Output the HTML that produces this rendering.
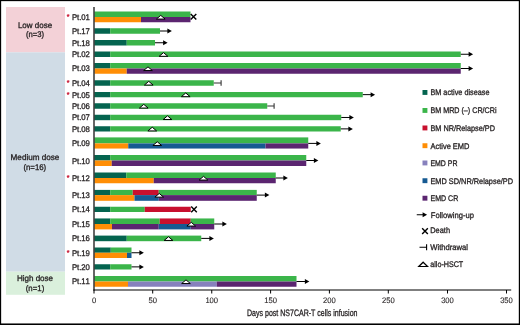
<!DOCTYPE html>
<html><head><meta charset="utf-8"><title>Swimmer plot</title>
<style>
html,body{margin:0;padding:0;background:#fff;}
body{width:520px;height:325px;overflow:hidden;position:relative;}
svg{position:absolute;left:0;top:0;display:block;}
svg text{font-family:"Liberation Sans",sans-serif;fill:#231f20;stroke:#231f20;stroke-width:0.3px;text-rendering:geometricPrecision;}
</style></head><body>
<svg width="520" height="325" viewBox="0 0 520 325" shape-rendering="auto">
<rect x="0" y="0" width="520" height="325" fill="#000"/><rect x="1.15" y="1.15" width="517.65" height="322.3" fill="#fff"/>
<rect x="6.00" y="7.00" width="59.00" height="45.30" fill="#f3d1d7"/>
<rect x="6.00" y="52.30" width="59.00" height="219.40" fill="#d0dce6"/>
<rect x="6.00" y="271.70" width="59.00" height="23.10" fill="#daf0dc"/>
<text x="35.0" y="27.7" font-size="8.2" text-anchor="middle" textLength="34.2" lengthAdjust="spacingAndGlyphs">Low dose</text>
<text x="35" y="37.1" font-size="8.2" text-anchor="middle" textLength="18.1" lengthAdjust="spacingAndGlyphs">(n=3)</text>
<text x="35" y="160.3" font-size="8.2" text-anchor="middle" textLength="48.8" lengthAdjust="spacingAndGlyphs">Medium dose</text>
<text x="34.8" y="169.5" font-size="8.2" text-anchor="middle" textLength="22.8" lengthAdjust="spacingAndGlyphs">(n=16)</text>
<text x="35" y="281.4" font-size="8.2" text-anchor="middle" textLength="36.2" lengthAdjust="spacingAndGlyphs">High dose</text>
<text x="35" y="291.0" font-size="8.2" text-anchor="middle" textLength="18.5" lengthAdjust="spacingAndGlyphs">(n=1)</text>
<text transform="translate(71.9,19.88) scale(0.95,1)" x="0.00 5.26 7.68 9.79 14.37" y="0" font-size="8.2">Pt.01</text>
<text x="68.2" y="19.27" font-size="7" text-anchor="middle" style="fill:#c8102e;stroke:#c8102e">*</text>
<rect x="94.50" y="11.50" width="96.00" height="5.50" fill="#3bb54a"/>
<rect x="94.50" y="17.00" width="46.50" height="5.25" fill="#ff8e05"/>
<rect x="141.00" y="17.00" width="49.50" height="5.25" fill="#5b2570"/>
<path d="M190.7 13.95L196.3 19.55M190.7 19.55L196.3 13.95" stroke="#000" stroke-width="1.4" fill="none"/>
<path d="M160.75 15.35L165.1 19.05H156.4Z" fill="#fff" stroke="#000" stroke-width="1.0" stroke-linejoin="miter"/>
<text transform="translate(71.9,34.00) scale(0.95,1)" x="0.00 5.26 7.68 9.79 14.37" y="0" font-size="8.2">Pt.17</text>
<rect x="94.50" y="28.25" width="15.70" height="5.50" fill="#04644f"/>
<rect x="110.20" y="28.25" width="49.80" height="5.50" fill="#3bb54a"/>
<path d="M160 31.0H168.85" stroke="#000" stroke-width="1.0" fill="none"/>
<path d="M171.85 31.0L167.35 28.5V33.5Z" fill="#000"/>
<text transform="translate(71.9,45.75) scale(0.95,1)" x="0.00 5.26 7.68 9.79 14.37" y="0" font-size="8.2">Pt.18</text>
<rect x="94.50" y="40.00" width="32.25" height="5.50" fill="#04644f"/>
<rect x="126.75" y="40.00" width="28.25" height="5.50" fill="#3bb54a"/>
<path d="M155 42.75H164.6" stroke="#000" stroke-width="1.0" fill="none"/>
<path d="M167.6 42.75L163.1 40.25V45.25Z" fill="#000"/>
<text transform="translate(71.9,57.25) scale(0.95,1)" x="0.00 5.26 7.68 9.79 14.37" y="0" font-size="8.2">Pt.02</text>
<rect x="94.50" y="51.50" width="15.70" height="5.50" fill="#04644f"/>
<rect x="110.20" y="51.50" width="350.55" height="5.50" fill="#3bb54a"/>
<path d="M460.75 54.25H470.1" stroke="#000" stroke-width="1.0" fill="none"/>
<path d="M473.1 54.25L468.6 51.75V56.75Z" fill="#000"/>
<path d="M163.5 52.6L167.85 56.300000000000004H159.15Z" fill="#fff" stroke="#000" stroke-width="1.0" stroke-linejoin="miter"/>
<text transform="translate(71.9,71.38) scale(0.95,1)" x="0.00 5.26 7.68 9.79 14.37" y="0" font-size="8.2">Pt.03</text>
<rect x="94.50" y="63.00" width="15.70" height="5.50" fill="#04644f"/>
<rect x="110.20" y="63.00" width="350.55" height="5.50" fill="#3bb54a"/>
<rect x="94.50" y="68.50" width="32.25" height="5.25" fill="#ff8e05"/>
<rect x="126.75" y="68.50" width="334.00" height="5.25" fill="#5b2570"/>
<path d="M460.75 68.5H470.1" stroke="#000" stroke-width="1.0" fill="none"/>
<path d="M473.1 68.5L468.6 66.0V71.0Z" fill="#000"/>
<path d="M148 66.85000000000001L152.35 70.55H143.65Z" fill="#fff" stroke="#000" stroke-width="1.0" stroke-linejoin="miter"/>
<text transform="translate(71.9,86.00) scale(0.95,1)" x="0.00 5.26 7.68 9.79 14.37" y="0" font-size="8.2">Pt.04</text>
<text x="68.2" y="85.40" font-size="7" text-anchor="middle" style="fill:#c8102e;stroke:#c8102e">*</text>
<rect x="94.50" y="80.25" width="15.70" height="5.50" fill="#04644f"/>
<rect x="110.20" y="80.25" width="103.55" height="5.50" fill="#3bb54a"/>
<path d="M213.75 83.0H221.5M221.1 80.2V85.8" stroke="#333" stroke-width="1.1" fill="none"/>
<path d="M148.75 81.35000000000001L153.1 85.05H144.4Z" fill="#fff" stroke="#000" stroke-width="1.0" stroke-linejoin="miter"/>
<text transform="translate(71.9,97.62) scale(0.95,1)" x="0.00 5.26 7.68 9.79 14.37" y="0" font-size="8.2">Pt.05</text>
<text x="68.2" y="97.03" font-size="7" text-anchor="middle" style="fill:#c8102e;stroke:#c8102e">*</text>
<rect x="94.50" y="92.00" width="15.70" height="5.25" fill="#04644f"/>
<rect x="110.20" y="92.00" width="252.55" height="5.25" fill="#3bb54a"/>
<path d="M362.75 94.625H372.1" stroke="#000" stroke-width="1.0" fill="none"/>
<path d="M375.1 94.625L370.6 92.125V97.125Z" fill="#000"/>
<path d="M185.75 92.97500000000001L190.1 96.675H181.4Z" fill="#fff" stroke="#000" stroke-width="1.0" stroke-linejoin="miter"/>
<text transform="translate(71.9,109.00) scale(0.95,1)" x="0.00 5.26 7.68 9.79 14.37" y="0" font-size="8.2">Pt.06</text>
<rect x="94.50" y="103.25" width="15.70" height="5.50" fill="#04644f"/>
<rect x="110.20" y="103.25" width="157.05" height="5.50" fill="#3bb54a"/>
<path d="M267.25 106.0H274.5M274.1 103.2V108.8" stroke="#333" stroke-width="1.1" fill="none"/>
<path d="M143.75 104.35000000000001L148.1 108.05H139.4Z" fill="#fff" stroke="#000" stroke-width="1.0" stroke-linejoin="miter"/>
<text transform="translate(71.9,120.47) scale(0.95,1)" x="0.00 5.26 7.68 9.79 14.37" y="0" font-size="8.2">Pt.07</text>
<rect x="94.50" y="114.75" width="15.70" height="5.45" fill="#04644f"/>
<rect x="110.20" y="114.75" width="231.05" height="5.45" fill="#3bb54a"/>
<path d="M341.25 117.475H350.85" stroke="#000" stroke-width="1.0" fill="none"/>
<path d="M353.85 117.475L349.35 114.975V119.975Z" fill="#000"/>
<path d="M167.5 115.825L171.85 119.52499999999999H163.15Z" fill="#fff" stroke="#000" stroke-width="1.0" stroke-linejoin="miter"/>
<text transform="translate(71.9,131.88) scale(0.95,1)" x="0.00 5.26 7.68 9.79 14.37" y="0" font-size="8.2">Pt.08</text>
<rect x="94.50" y="126.25" width="15.70" height="5.25" fill="#04644f"/>
<rect x="110.20" y="126.25" width="230.55" height="5.25" fill="#3bb54a"/>
<path d="M340.75 128.875H349.85" stroke="#000" stroke-width="1.0" fill="none"/>
<path d="M352.85 128.875L348.35 126.375V131.375Z" fill="#000"/>
<path d="M152.25 127.225L156.6 130.92499999999998H147.9Z" fill="#fff" stroke="#000" stroke-width="1.0" stroke-linejoin="miter"/>
<text transform="translate(71.9,145.98) scale(0.95,1)" x="0.00 5.26 7.68 9.79 14.37" y="0" font-size="8.2">Pt.09</text>
<rect x="94.50" y="137.40" width="213.75" height="6.00" fill="#3bb54a"/>
<rect x="94.50" y="143.40" width="33.75" height="5.15" fill="#ff8e05"/>
<rect x="128.25" y="143.40" width="137.25" height="5.15" fill="#165a92"/>
<rect x="265.50" y="143.40" width="42.75" height="5.15" fill="#5b2570"/>
<path d="M308.25 143.4H317.85" stroke="#000" stroke-width="1.0" fill="none"/>
<path d="M320.85 143.4L316.35 140.9V145.9Z" fill="#000"/>
<path d="M157.25 141.75L161.6 145.45H152.9Z" fill="#fff" stroke="#000" stroke-width="1.0" stroke-linejoin="miter"/>
<text transform="translate(71.9,163.50) scale(0.95,1)" x="0.00 5.26 7.68 9.79 14.37" y="0" font-size="8.2">Pt.10</text>
<rect x="94.50" y="155.00" width="15.70" height="5.50" fill="#04644f"/>
<rect x="110.20" y="155.00" width="196.05" height="5.50" fill="#3bb54a"/>
<rect x="94.50" y="160.50" width="17.25" height="5.50" fill="#ff8e05"/>
<rect x="111.75" y="160.50" width="194.50" height="5.50" fill="#5b2570"/>
<path d="M306.25 160.5H315.35" stroke="#000" stroke-width="1.0" fill="none"/>
<path d="M318.35 160.5L313.85 158.0V163.0Z" fill="#000"/>
<text transform="translate(71.9,180.88) scale(0.95,1)" x="0.00 5.26 7.68 9.79 14.37" y="0" font-size="8.2">Pt.12</text>
<text x="68.2" y="180.28" font-size="7" text-anchor="middle" style="fill:#c8102e;stroke:#c8102e">*</text>
<rect x="94.50" y="172.50" width="31.75" height="5.50" fill="#04644f"/>
<rect x="126.25" y="172.50" width="149.50" height="5.50" fill="#3bb54a"/>
<rect x="94.50" y="178.00" width="59.25" height="5.25" fill="#ff8e05"/>
<rect x="153.75" y="178.00" width="122.00" height="5.25" fill="#5b2570"/>
<path d="M275.75 178H284.85" stroke="#000" stroke-width="1.0" fill="none"/>
<path d="M287.85 178L283.35 175.5V180.5Z" fill="#000"/>
<path d="M203.5 176.35L207.85 180.04999999999998H199.15Z" fill="#fff" stroke="#000" stroke-width="1.0" stroke-linejoin="miter"/>
<text transform="translate(71.9,198.35) scale(0.95,1)" x="0.00 5.26 7.68 9.79 14.37" y="0" font-size="8.2">Pt.13</text>
<rect x="94.50" y="189.90" width="15.70" height="5.20" fill="#04644f"/>
<rect x="110.20" y="189.90" width="22.55" height="5.20" fill="#3bb54a"/>
<rect x="132.75" y="189.90" width="26.00" height="5.20" fill="#c8102e"/>
<rect x="158.75" y="189.90" width="98.00" height="5.20" fill="#3bb54a"/>
<rect x="94.50" y="195.10" width="40.00" height="5.70" fill="#ff8e05"/>
<rect x="134.50" y="195.10" width="24.25" height="5.70" fill="#165a92"/>
<rect x="158.75" y="195.10" width="98.00" height="5.70" fill="#5b2570"/>
<path d="M256.75 195.1H266.35" stroke="#000" stroke-width="1.0" fill="none"/>
<path d="M269.35 195.1L264.85 192.6V197.6Z" fill="#000"/>
<path d="M159.25 193.45L163.6 197.14999999999998H154.9Z" fill="#fff" stroke="#000" stroke-width="1.0" stroke-linejoin="miter"/>
<text transform="translate(71.9,212.38) scale(0.95,1)" x="0.00 5.26 7.68 9.79 14.37" y="0" font-size="8.2">Pt.14</text>
<rect x="94.50" y="206.75" width="15.70" height="5.25" fill="#04644f"/>
<rect x="110.20" y="206.75" width="34.55" height="5.25" fill="#3bb54a"/>
<rect x="144.75" y="206.75" width="46.00" height="5.25" fill="#c8102e"/>
<path d="M191.2 206.575L196.8 212.175M191.2 212.175L196.8 206.575" stroke="#000" stroke-width="1.4" fill="none"/>
<text transform="translate(71.9,226.93) scale(0.95,1)" x="0.00 5.26 7.68 9.79 14.37" y="0" font-size="8.2">Pt.15</text>
<rect x="94.50" y="218.45" width="15.70" height="5.55" fill="#04644f"/>
<rect x="110.20" y="218.45" width="49.55" height="5.55" fill="#3bb54a"/>
<rect x="159.75" y="218.45" width="31.00" height="5.55" fill="#c8102e"/>
<rect x="190.75" y="218.45" width="23.50" height="5.55" fill="#3bb54a"/>
<rect x="94.50" y="224.00" width="17.50" height="5.40" fill="#ff8e05"/>
<rect x="112.00" y="224.00" width="46.75" height="5.40" fill="#5b2570"/>
<rect x="158.75" y="224.00" width="32.00" height="5.40" fill="#165a92"/>
<rect x="190.75" y="224.00" width="23.50" height="5.40" fill="#5b2570"/>
<path d="M214.25 224H223.85" stroke="#000" stroke-width="1.0" fill="none"/>
<path d="M226.85 224L222.35 221.5V226.5Z" fill="#000"/>
<path d="M191.25 222.35L195.6 226.04999999999998H186.9Z" fill="#fff" stroke="#000" stroke-width="1.0" stroke-linejoin="miter"/>
<text transform="translate(71.9,241.40) scale(0.95,1)" x="0.00 5.26 7.68 9.79 14.37" y="0" font-size="8.2">Pt.16</text>
<rect x="94.50" y="235.60" width="32.25" height="5.60" fill="#04644f"/>
<rect x="126.75" y="235.60" width="74.50" height="5.60" fill="#3bb54a"/>
<path d="M201.25 238.39999999999998H210.85" stroke="#000" stroke-width="1.0" fill="none"/>
<path d="M213.85 238.39999999999998L209.35 235.89999999999998V240.89999999999998Z" fill="#000"/>
<path d="M168.5 236.74999999999997L172.85 240.44999999999996H164.15Z" fill="#fff" stroke="#000" stroke-width="1.0" stroke-linejoin="miter"/>
<text transform="translate(71.9,255.75) scale(0.95,1)" x="0.00 5.26 7.68 9.79 14.37" y="0" font-size="8.2">Pt.19</text>
<text x="68.2" y="255.15" font-size="7" text-anchor="middle" style="fill:#c8102e;stroke:#c8102e">*</text>
<rect x="94.50" y="247.50" width="16.25" height="5.25" fill="#04644f"/>
<rect x="110.75" y="247.50" width="20.75" height="5.25" fill="#3bb54a"/>
<rect x="94.50" y="252.75" width="32.50" height="5.25" fill="#ff8e05"/>
<rect x="127.00" y="252.75" width="4.50" height="5.25" fill="#165a92"/>
<path d="M131.5 252.75H140.85" stroke="#000" stroke-width="1.0" fill="none"/>
<path d="M143.85 252.75L139.35 250.25V255.25Z" fill="#000"/>
<text transform="translate(71.9,269.88) scale(0.95,1)" x="0.00 5.26 7.68 9.79 14.37" y="0" font-size="8.2">Pt.20</text>
<rect x="94.50" y="264.25" width="15.70" height="5.25" fill="#04644f"/>
<rect x="110.20" y="264.25" width="21.30" height="5.25" fill="#3bb54a"/>
<path d="M131.5 266.875H140.85" stroke="#000" stroke-width="1.0" fill="none"/>
<path d="M143.85 266.875L139.35 264.375V269.375Z" fill="#000"/>
<text transform="translate(71.9,284.38) scale(0.95,1)" x="0.00 5.26 7.68 9.79 14.37" y="0" font-size="8.2">Pt.11</text>
<rect x="94.50" y="276.00" width="202.00" height="5.50" fill="#3bb54a"/>
<rect x="94.50" y="281.50" width="33.50" height="5.25" fill="#ff8e05"/>
<rect x="128.00" y="281.50" width="88.75" height="5.25" fill="#8781bd"/>
<rect x="216.75" y="281.50" width="79.75" height="5.25" fill="#5b2570"/>
<path d="M296.5 281.5H306.35" stroke="#000" stroke-width="1.0" fill="none"/>
<path d="M309.35 281.5L304.85 279.0V284.0Z" fill="#000"/>
<path d="M186 279.84999999999997L190.35 283.55H181.65Z" fill="#fff" stroke="#000" stroke-width="1.0" stroke-linejoin="miter"/>
<path d="M94 7V290.6" stroke="#000" stroke-width="1.2" fill="none"/>
<path d="M93.4 290H511.2" stroke="#000" stroke-width="1.2" fill="none"/>
<path d="M94 290V293.5" stroke="#000" stroke-width="1" fill="none"/>
<text x="94" y="303.1" font-size="7.9" text-anchor="middle" textLength="4.25" lengthAdjust="spacingAndGlyphs" style="stroke-width:0.1px">0</text>
<path d="M152.7 290V293.5" stroke="#000" stroke-width="1" fill="none"/>
<text x="152.7" y="303.1" font-size="7.9" text-anchor="middle" textLength="8.5" lengthAdjust="spacingAndGlyphs" style="stroke-width:0.1px">50</text>
<path d="M211.75 290V293.5" stroke="#000" stroke-width="1" fill="none"/>
<text x="211.75" y="303.1" font-size="7.9" text-anchor="middle" textLength="12.75" lengthAdjust="spacingAndGlyphs" style="stroke-width:0.1px">100</text>
<path d="M270.6 290V293.5" stroke="#000" stroke-width="1" fill="none"/>
<text x="270.6" y="303.1" font-size="7.9" text-anchor="middle" textLength="12.75" lengthAdjust="spacingAndGlyphs" style="stroke-width:0.1px">150</text>
<path d="M329.4 290V293.5" stroke="#000" stroke-width="1" fill="none"/>
<text x="329.4" y="303.1" font-size="7.9" text-anchor="middle" textLength="12.75" lengthAdjust="spacingAndGlyphs" style="stroke-width:0.1px">200</text>
<path d="M388.3 290V293.5" stroke="#000" stroke-width="1" fill="none"/>
<text x="388.3" y="303.1" font-size="7.9" text-anchor="middle" textLength="12.75" lengthAdjust="spacingAndGlyphs" style="stroke-width:0.1px">250</text>
<path d="M447.5 290V293.5" stroke="#000" stroke-width="1" fill="none"/>
<text x="447.5" y="303.1" font-size="7.9" text-anchor="middle" textLength="12.75" lengthAdjust="spacingAndGlyphs" style="stroke-width:0.1px">300</text>
<path d="M506.5 290V293.5" stroke="#000" stroke-width="1" fill="none"/>
<text x="506.5" y="303.1" font-size="7.9" text-anchor="middle" textLength="12.75" lengthAdjust="spacingAndGlyphs" style="stroke-width:0.1px">350</text>
<text x="247" y="316.1" font-size="9.3" text-anchor="start" textLength="110.5" lengthAdjust="spacingAndGlyphs">Days post NS7CAR-T cells infusion</text>
<rect x="422.50" y="90.00" width="4.90" height="4.90" fill="#04644f"/>
<text x="430.45" y="95.25" font-size="8.2" text-anchor="start" textLength="59.05" lengthAdjust="spacingAndGlyphs">BM active disease</text>
<rect x="422.50" y="108.00" width="4.90" height="4.90" fill="#3bb54a"/>
<text x="430.45" y="113.25" font-size="8.2" text-anchor="start" textLength="66.05" lengthAdjust="spacingAndGlyphs">BM MRD (–) CR/CRi</text>
<rect x="422.50" y="125.50" width="4.90" height="4.90" fill="#c8102e"/>
<text x="430.45" y="130.75" font-size="8.2" text-anchor="start" textLength="64.55" lengthAdjust="spacingAndGlyphs">BM NR/Relapse/PD</text>
<rect x="422.50" y="143.25" width="4.90" height="4.90" fill="#ff8e05"/>
<text x="430.45" y="148.5" font-size="8.2" text-anchor="start" textLength="39.05" lengthAdjust="spacingAndGlyphs">Active EMD</text>
<rect x="422.50" y="160.50" width="4.90" height="4.90" fill="#8781bd"/>
<text x="430.45" y="165.75" font-size="8.2" text-anchor="start" textLength="27.05" lengthAdjust="spacingAndGlyphs">EMD PR</text>
<rect x="422.50" y="178.25" width="4.90" height="4.90" fill="#165a92"/>
<text x="430.45" y="183.5" font-size="8.2" text-anchor="start" textLength="82.55" lengthAdjust="spacingAndGlyphs">EMD SD/NR/Relapse/PD</text>
<rect x="422.50" y="195.75" width="4.90" height="4.90" fill="#5b2570"/>
<text x="430.45" y="201.0" font-size="8.2" text-anchor="start" textLength="27.8" lengthAdjust="spacingAndGlyphs">EMD CR</text>
<path d="M416.75 214.75H424.1" stroke="#000" stroke-width="1.0" fill="none"/>
<path d="M427.1 214.75L422.6 212.25V217.25Z" fill="#000"/>
<text x="430.75" y="217.6" font-size="8.2" text-anchor="start" textLength="43.2" lengthAdjust="spacingAndGlyphs">Following-up</text>
<path d="M422.15 228.35L427.85 234.04999999999998M422.15 234.04999999999998L427.85 228.35" stroke="#000" stroke-width="1.4" fill="none"/>
<text x="430.25" y="233.4" font-size="8.2" text-anchor="start" textLength="19.75" lengthAdjust="spacingAndGlyphs">Death</text>
<path d="M419.5 247.25H427M426.6 244.25V250.25" stroke="#000" stroke-width="1.1" fill="none"/>
<text x="430.25" y="250.1" font-size="8.2" text-anchor="start" textLength="37.75" lengthAdjust="spacingAndGlyphs">Withdrawal</text>
<path d="M423.15 262.2L427.55 266.5H418.75Z" fill="#fff" stroke="#000" stroke-width="1.2"/>
<text x="430.25" y="266.9" font-size="8.2" text-anchor="start" textLength="33" lengthAdjust="spacingAndGlyphs">allo-HSCT</text>
</svg>
</body></html>
